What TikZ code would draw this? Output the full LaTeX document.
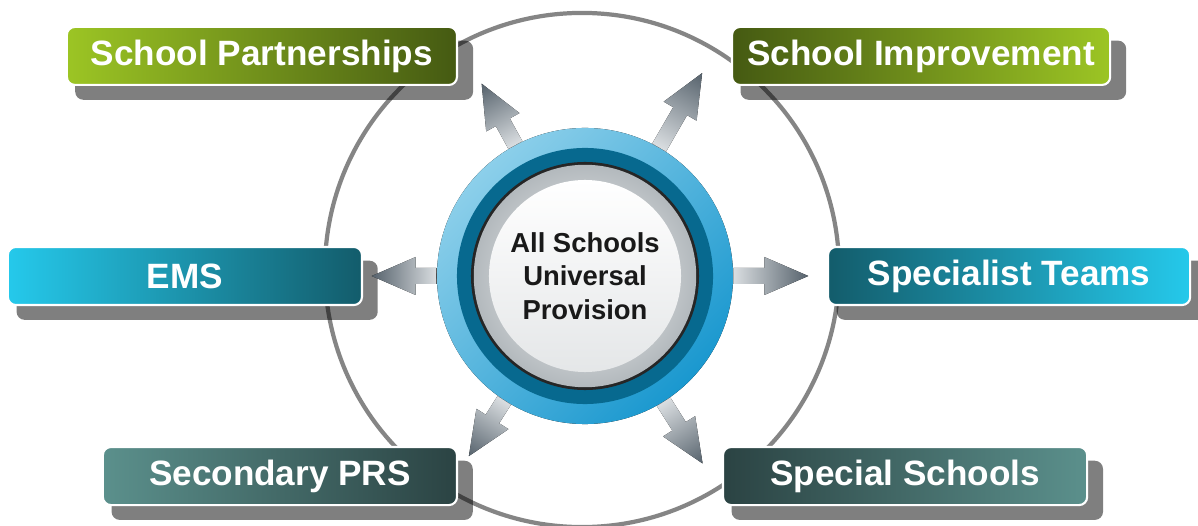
\documentclass[tikz,border=0pt]{standalone}
\usepackage{fontspec}
\setmainfont{Liberation Sans}
\usetikzlibrary{positioning,shadows}
\definecolor{leafgreen}{HTML}{9CC524}
\definecolor{mossgreen}{HTML}{455A12}
\definecolor{skycyan}{HTML}{25C9EB}
\definecolor{deepteal}{HTML}{135C6B}
\definecolor{sagegray}{HTML}{5B908C}
\definecolor{slateteal}{HTML}{2B4343}
\definecolor{ringgray}{HTML}{858585}
\definecolor{tailgray}{HTML}{DADEE1}
\definecolor{headgray}{HTML}{56626C}
\definecolor{halolight}{HTML}{8CCFEA}
\definecolor{halomid}{HTML}{1A98CF}
\definecolor{haloink}{HTML}{07698F}
\definecolor{silver}{HTML}{B3B9BD}
\tikzset{
  tab/.style={rectangle, rounded corners=0.2cm, draw=white, line width=1.5pt,
    minimum height=1.45cm, text=white,
    font=\bfseries\fontsize{25}{30}\selectfont,
    general shadow={shadow xshift=0.3cm, shadow yshift=-0.35cm,
      shadow scale=1.02, fill=black, opacity=0.5}},
  hub/.style={circle, minimum size=7.4cm, inner sep=0pt, align=center,
    font=\bfseries\fontsize{19.5}{24}\selectfont, text=black!90}
}

\begin{document}
\begin{tikzpicture}[x=0.025cm, y=0.025cm]
        \useasboundingbox (0,0) rectangle (1198,526);
        \node [inner sep=0pt, minimum size=0pt] (hubc) at (585,250) {};
        % outer loop
        \draw [ringgray, line width=3pt] ([shift={(-3,6)}]hubc.center) circle (6.425cm);
        % the six tabs
        \node [on grid, above left=5.5cm and 8.075cm of hubc, tab, minimum width=9.75cm,
          left color=leafgreen, right color=mossgreen] (Partner) {School Partnerships};
        \node [on grid, above right=5.5cm and 8.4cm of hubc, tab, minimum width=9.45cm,
          left color=mossgreen, right color=leafgreen] (Improve) {School Improvement};
        \node [on grid, left=10cm of hubc, tab, minimum width=8.85cm,
          left color=skycyan, right color=deepteal] (EMS) {EMS};
        \node [on grid, right=10.6cm of hubc, tab, minimum width=9.05cm,
          left color=deepteal, right color=skycyan] (Teams) {Specialist Teams};
        \node [on grid, below left=5cm and 7.625cm of hubc, tab, minimum width=8.85cm,
          left color=sagegray, right color=slateteal] (PRS) {Secondary PRS};
        \node [on grid, below right=5cm and 8cm of hubc, tab, minimum width=9.1cm,
          left color=slateteal, right color=sagegray] (Special) {Special Schools};
        % the hub
        \fill [left color=halolight, right color=halomid, shading angle=45] (hubc.center) circle (3.7cm);
        \fill [haloink] (hubc.center) circle (3.2cm);
        \fill [black!85] (hubc.center) circle (2.85cm);
        \shade [inner color=white!95!silver, outer color=silver] (hubc.center) circle (2.78cm);
        \shade [top color=white, bottom color=silver!35] (hubc.center) circle (2.4cm);
        \node [hub] (core) at (hubc) {All Schools\\Universal\\Provision};
        % arrows out of the hub
        \foreach \ang/\len in {118.8/70, 60/86, 180/65, 0/75, 237.6/66, 302.3/73} {
          \begin{scope}[transform canvas={shift={(core.\ang)}, rotate=\ang}]
            \fill [left color=tailgray, right color=headgray]
              (0,-8) -- (\len-44,-8) -- (\len-44,-19) -- (\len,0)
              -- (\len-44,19) -- (\len-44,8) -- (0,8) -- cycle;
          \end{scope}
        }
      \end{tikzpicture}
\end{document}
